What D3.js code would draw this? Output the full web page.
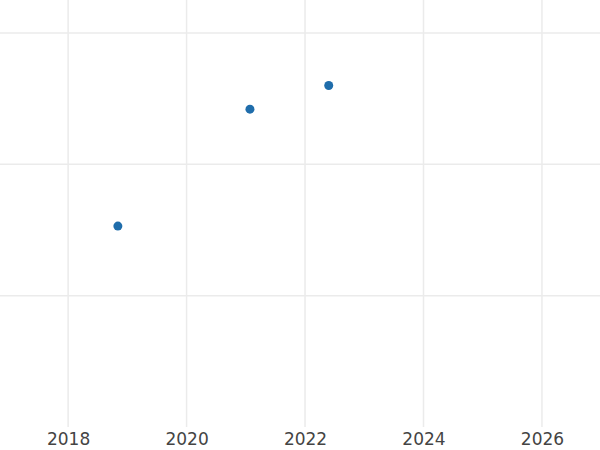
<!DOCTYPE html>
<html><head><meta charset="utf-8">
<script src="https://cdn.jsdelivr.net/npm/d3@7"></script>
<style>body{margin:0;background:#fff}</style>
</head><body>
<svg id="c" width="600" height="450"></svg>
<script>
const xYears = [2018.84, 2021.07, 2022.40];
const yValues = [1.53, 2.42, 2.60];
const xTicks = [2018, 2020, 2022, 2024, 2026];
const yGrid = [1, 2, 3];

const svg = d3.select("#c");
const x = d3.scaleLinear().domain([2016.85, 2026.98]).range([0, 600]);
const y = d3.scaleLinear().domain([0, 3]).range([427, 33]);

const g = svg.append("g");
g.selectAll(".vg").data(xTicks).join("line")
  .attr("x1", d => x(d)).attr("x2", d => x(d)).attr("y1", 0).attr("y2", 427)
  .attr("stroke", "#ebebeb").attr("stroke-width", 1.5);
g.selectAll(".hg").data(yGrid).join("line")
  .attr("x1", 0).attr("x2", 600).attr("y1", d => y(d)).attr("y2", d => y(d))
  .attr("stroke", "#ebebeb").attr("stroke-width", 1.5);

const ax = svg.append("g").attr("transform", "translate(0,427)")
  .call(d3.axisBottom(x).tickValues(xTicks).tickFormat(d3.format("d")).tickSize(0).tickPadding(6));
ax.select(".domain").remove();
ax.selectAll("text").attr("fill", "#444").attr("font-size", 17).attr("font-family", "DejaVu Sans");

svg.selectAll(".pt").data(xYears).join("circle")
  .attr("cx", d => x(d)).attr("cy", (d, i) => y(yValues[i])).attr("r", 4.5)
  .attr("fill", "#1f6dab");
</script>
</body></html>
